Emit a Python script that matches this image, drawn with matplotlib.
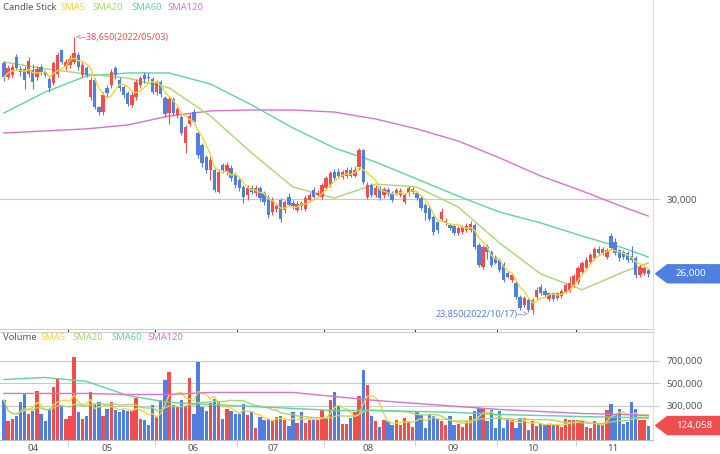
import numpy as np
import pandas as pd
import matplotlib
matplotlib.use('Agg')
import matplotlib.pyplot as plt
from matplotlib.patches import Polygon

plt.rcParams['font.family'] = ['Noto Sans', 'DejaVu Sans']

# daily candles (2022/04/08 .. 2022/11/24)
opens = [37250, 36530, 36650, 37600, 36950, 36950, 36700, 36900, 36500, 37050,
         36800, 36400, 36200, 36700, 37950, 37100, 37150, 37300, 37700, 36650,
         37000, 35450, 36350, 34900, 34650, 35950, 36100, 37000, 36350, 36000,
         35650, 35050, 35450, 36100, 36650, 36550, 36400, 35700, 36250, 35400,
         34600, 35350, 34500, 34400, 33000, 34000, 34650, 33550, 32900, 32250,
         31550, 31550, 30400, 31800, 31450, 31650, 31300, 31000, 30650, 30200,
         30600, 30300, 30600, 30300, 30050, 29300, 29450, 29950, 29400, 30100,
         29800, 29400, 29800, 29450, 29950, 30500, 30200, 30100, 30600, 30750,
         31450, 31450, 31200, 31250, 31550, 31250, 31700, 32600, 30100, 30750,
         30200, 30600, 30200, 30500, 30300, 30300, 30200, 29850, 30300, 30350,
         30300, 30050, 29700, 29500, 29050, 28750, 28950, 28700, 28600, 28550,
         28200, 28250, 28350, 28350, 28600, 27550, 26350, 27450, 27150, 26900,
         26750, 26550, 26050, 25650, 25500, 24750, 24350, 24600, 24050, 24750,
         25300, 25100, 24650, 24950, 24700, 24800, 25050, 25150, 25400, 25550,
         26100, 26300, 26650, 26850, 27350, 27100, 26900, 28000, 27700, 27250,
         27150, 27100, 26950, 26850, 25950, 26050, 26200]
highs = [37400, 37150, 37200, 37750, 37100, 37100, 37600, 37200, 37100, 37200,
         36900, 36550, 37400, 37850, 38000, 37500, 37700, 38650, 37850, 37300,
         37100, 36500, 36450, 35000, 35700, 36100, 36950, 37100, 36500, 36100,
         35800, 35700, 36400, 36600, 36800, 36750, 36500, 36350, 36350, 35500,
         35500, 35450, 34950, 34500, 33950, 34600, 34800, 33650, 33000, 32350,
         32250, 31650, 31600, 31950, 32000, 31800, 31450, 31100, 30750, 30750,
         30750, 30750, 30700, 30450, 30200, 30100, 29800, 30050, 29950, 30300,
         29950, 29900, 29900, 30200, 30350, 30650, 30500, 30850, 31250, 31500,
         31600, 31650, 31550, 31700, 31700, 31750, 32750, 32700, 30900, 30850,
         30750, 30700, 30650, 30650, 30450, 30600, 30600, 30300, 30700, 30650,
         30450, 30150, 29800, 29600, 29150, 28850, 29500, 29000, 28700, 28650,
         28550, 28600, 28700, 28800, 28700, 27650, 27550, 27600, 27250, 27000,
         26850, 26650, 26150, 26050, 25600, 24850, 24800, 24700, 24700, 25300,
         25450, 25250, 25050, 25050, 25050, 25200, 25500, 25900, 26000, 26400,
         26700, 26900, 27100, 27450, 27500, 27450, 27400, 28200, 27900, 27350,
         27250, 27200, 27500, 26950, 26450, 26400, 26300]
lows = [36300, 36400, 36500, 36900, 36600, 35900, 36500, 35900, 36350, 36650,
        36500, 35700, 36100, 36550, 37200, 36900, 37000, 37200, 36900, 36500,
        36500, 35300, 34800, 34500, 34500, 35400, 35950, 36400, 35800, 35400,
        34950, 34900, 35300, 35950, 36200, 36300, 35600, 35550, 35450, 34400,
        34000, 34450, 34350, 33400, 32450, 33900, 34000, 32200, 31700, 31400,
        31000, 30400, 30300, 31400, 31300, 30950, 30600, 30450, 29800, 29950,
        30250, 30150, 29900, 29700, 29000, 29150, 29300, 28750, 29250, 29600,
        29450, 29300, 29400, 29350, 29850, 30000, 30100, 30000, 30500, 30650,
        31000, 31100, 31050, 31100, 31150, 31150, 31550, 30800, 30000, 30100,
        30100, 29950, 30050, 30150, 29850, 30200, 30100, 29750, 30150, 30250,
        29950, 29400, 28900, 28800, 28100, 28200, 28850, 28600, 28350, 28050,
        28100, 28150, 28250, 28250, 27350, 26350, 26250, 26800, 26350, 26500,
        26100, 25550, 25750, 25550, 24650, 24050, 24250, 23950, 23850, 24650,
        24850, 24750, 24550, 24550, 24600, 24700, 24950, 25050, 25300, 25450,
        25950, 26200, 26550, 26750, 27000, 27000, 26800, 27300, 27000, 26700,
        26800, 26650, 26650, 25800, 25850, 25950, 25850]
closes = [36500, 37000, 37050, 37000, 36800, 36350, 37400, 36250, 36950, 36800,
          36650, 35950, 37250, 37700, 37300, 37350, 37500, 37800, 37050, 37150,
          36650, 36350, 34900, 34650, 35550, 35650, 36800, 36650, 35950, 35550,
          35100, 35550, 36250, 36450, 36400, 36450, 35700, 36250, 35600, 34550,
          35350, 34600, 34800, 33550, 33850, 34450, 34100, 32350, 31900, 31550,
          32100, 30500, 31450, 31550, 31800, 31100, 30750, 30600, 30100, 30600,
          30400, 30600, 30050, 29850, 29150, 29950, 29650, 28950, 29850, 29700,
          29600, 29750, 29600, 30050, 30200, 30100, 30300, 30750, 31100, 31400,
          31100, 31250, 31450, 31550, 31250, 31550, 32600, 30900, 30750, 30200,
          30600, 30050, 30550, 30250, 29950, 30500, 30450, 30200, 30600, 30550,
          30050, 29500, 29250, 28950, 28250, 28350, 29300, 28850, 28450, 28200,
          28450, 28500, 28550, 28650, 27450, 26450, 27450, 27150, 26450, 26600,
          26200, 25650, 25850, 25950, 24750, 24150, 24700, 24050, 24600, 25150,
          24950, 24850, 24950, 24650, 24950, 25100, 25400, 25500, 25900, 26300,
          26600, 26750, 27000, 27350, 27100, 27300, 27250, 27400, 27100, 26850,
          26900, 26750, 26750, 25950, 26350, 26300, 26000]
volumes = [350, 165, 180, 210, 330, 400, 225, 255, 435, 230,
           165, 260, 465, 540, 300, 185, 210, 735, 240, 180,
           210, 420, 315, 330, 210, 270, 335, 260, 240, 260,
           250, 260, 365, 185, 170, 125, 305, 205, 350, 530,
           600, 305, 285, 355, 300, 550, 230, 690, 290, 255,
           320, 360, 330, 180, 275, 250, 230, 230, 315, 220,
           255, 105, 200, 175, 180, 170, 200, 205, 170, 120,
           240, 150, 240, 150, 170, 175, 175, 260, 195, 350,
           425, 300, 135, 140, 195, 245, 390, 620, 480, 210,
           160, 110, 170, 160, 125, 170, 125, 195, 165, 115,
           245, 215, 100, 230, 205, 180, 165, 125, 210, 125,
           140, 110, 165, 210, 250, 280, 275, 165, 260, 100,
           250, 105, 180, 170, 100, 195, 195, 80, 165, 120,
           145, 140, 125, 130, 125, 115, 180, 170, 175, 170,
           160, 110, 105, 165, 140, 135, 260, 315, 230, 275,
           135, 155, 330, 275, 170, 170, 124.058]

# moving averages (every 10th candle + last)
ma_idx = [0, 10, 20, 30, 40, 50, 60, 70, 80, 90, 100, 110, 120, 130, 140, 150, 156]
sma20 = [37330, 36960, 36690, 36470, 35940, 34440, 32460, 30640, 30050, 30800,
         30640, 29570, 27650, 25990, 25150, 26100, 26580]
sma60 = [34600, 35720, 36580, 36740, 36740, 36150, 35030, 33800, 32730, 31980,
         31070, 30160, 29300, 28720, 28020, 27380, 26900]
sma120 = [33530, 33640, 33750, 33960, 34440, 34710, 34760, 34760, 34650, 34280,
          33750, 33100, 32200, 31230, 30430, 29570, 29090]
vol_sma60 = [533, 551, 516, 391, 329, 311, 293, 276, 258, 258, 249, 240, 222, 213, 204, 196, 196]
vol_sma120 = [409, 409, 409, 400, 400, 418, 418, 418, 382, 347, 320, 293, 267, 249, 231, 222, 213]

month_labels = ['04', '05', '06', '07', '08', '09', '10', '11']
label_pos = [7.0, 24.9, 45.8, 65.2, 88.2, 108.7, 128.1, 147.5]
month_edges = [15.5, 36.5, 56.5, 77.5, 99.5, 119.5, 138.5, 157.2]

RED = '#f04e4e'
BLUE = '#4f80e1'
C5 = '#f3d43a'
C20 = '#a6d870'
C60 = '#5fd49c'
C120 = '#d972cc'
GRID = '#c8c8c8'
TXT = '#555555'

o = np.array(opens, float)
h = np.array(highs, float)
l = np.array(lows, float)
c = np.array(closes, float)
v = np.array(volumes, float) * 1000
n = len(c)
x = np.arange(n)
up = c >= o
cols = np.where(up, RED, BLUE)

sma5 = pd.Series(c).rolling(5, min_periods=1).mean()
vsma5 = pd.Series(v).rolling(5, min_periods=1).mean()
vsma20 = pd.Series(v).rolling(20, min_periods=1).mean()

W, H = 720, 454
fig = plt.figure(figsize=(7.2, 4.54), dpi=100)
ax = fig.add_axes([0, 1 - 329 / H, 653 / W, 329 / H])
axv = fig.add_axes([0, 1 - 439.5 / H, 653 / W, (439.5 - 332) / H], sharex=ax)

xlim = (-3.9 / 4.13, (653 - 3.9) / 4.13)

# ---- price pane
ax.axhline(30000, color=GRID, lw=0.8, zorder=0)
ax.plot(ma_idx, sma120, color=C120, lw=1, zorder=1)
ax.plot(ma_idx, sma60, color=C60, lw=1, zorder=1)
ax.plot(ma_idx, sma20, color=C20, lw=1, zorder=1)
ax.vlines(x, l, h, colors=cols, lw=0.8, zorder=2)
ax.bar(x, np.maximum(np.abs(c - o), 30), bottom=np.minimum(o, c), width=0.8,
       color=cols, zorder=3)
ax.plot(x, sma5, color=C5, lw=1, zorder=4)

ax.set_xlim(*xlim)
ax.set_ylim(23048, 40642)
ax.yaxis.tick_right()
ax.set_yticks([30000])
ax.set_yticklabels(['30,000'])
ax.tick_params(axis='y', length=4, color=GRID, labelsize=7, labelcolor=TXT, pad=6)
ax.tick_params(axis='x', bottom=False, labelbottom=False)
for s in ['top', 'left']:
    ax.spines[s].set_visible(False)
ax.spines['right'].set_color('#dddddd')
ax.spines['bottom'].set_color('#cccccc')

imax = int(np.argmax(h))
imin = int(np.argmin(l))
ax.text(imax + 0.4, h[imax], '<--{:,.0f}(2022/05/03)'.format(h[imax]), color=RED,
        fontsize=6.5, ha='left', va='center')
ax.text(imin - 1.0, l[imin], '{:,.0f}(2022/10/17)-->'.format(l[imin]), color=BLUE,
        fontsize=6.5, ha='right', va='center')

# last price tag
tr = ax.get_yaxis_transform()
hh = 9 * 53.5
last = c[-1]
ax.add_patch(Polygon([(1.004, last), (1.022, last + hh), (1.11, last + hh),
                      (1.11, last - hh), (1.022, last - hh)], closed=True,
                     transform=tr, clip_on=False, color=BLUE, zorder=5))
ax.text(1.035, last, '{:,.0f}'.format(last), transform=tr, color='white',
        fontsize=7, ha='left', va='center', zorder=6)

# ---- volume pane
for g in [300000, 500000, 700000]:
    axv.axhline(g, color=GRID, lw=0.8, zorder=0)
axv.bar(x, v, width=0.8, color=cols, zorder=2)
axv.plot(x, vsma5, color=C5, lw=1, zorder=3)
axv.plot(x, vsma20, color=C20, lw=1, zorder=3)
axv.plot(ma_idx, np.array(vol_sma60) * 1000, color=C60, lw=1, zorder=3)
axv.plot(ma_idx, np.array(vol_sma120) * 1000, color=C120, lw=1, zorder=3)
axv.set_ylim(0, 955000)
axv.yaxis.tick_right()
axv.set_yticks([300000, 500000, 700000])
axv.set_yticklabels(['300,000', '500,000', '700,000'])
axv.tick_params(axis='y', length=4, color=GRID, labelsize=7, labelcolor=TXT, pad=6)
axv.set_xticks(label_pos)
axv.set_xticklabels(month_labels)
axv.set_xticks(month_edges, minor=True)
axv.tick_params(axis='x', which='major', length=0, labelsize=7, labelcolor=TXT, pad=3)
axv.tick_params(axis='x', which='minor', length=4, color=GRID)
axv.spines['left'].set_visible(False)
axv.spines['top'].set_color('#cccccc')
axv.spines['right'].set_color('#dddddd')
axv.spines['bottom'].set_color('#bbbbbb')
axv.set_xlim(*xlim)

trv = axv.get_yaxis_transform()
vh = 9 * 8889
lv = v[-1]
axv.add_patch(Polygon([(1.004, lv), (1.022, lv + vh), (1.11, lv + vh),
                       (1.11, lv - vh), (1.022, lv - vh)], closed=True,
                      transform=trv, clip_on=False, color=RED, zorder=5))
axv.text(1.035, lv, '{:,.0f}'.format(lv), transform=trv, color='white',
         fontsize=7, ha='left', va='center', zorder=6)

# ---- legends
def legend_row(y_px, items):
    for x_px, txt, col in items:
        fig.text(x_px / W, 1 - y_px / H, txt, color=col, fontsize=6.8,
                 ha='left', va='center')

legend_row(7, [(3, 'Candle Stick', TXT), (60, 'SMA5', C5), (92, 'SMA20', C20),
               (131, 'SMA60', C60), (167, 'SMA120', C120)])
legend_row(337, [(3, 'Volume', TXT), (40, 'SMA5', C5), (72, 'SMA20', C20),
                 (111, 'SMA60', C60), (147, 'SMA120', C120)])

fig.savefig('out.png', dpi=100)
